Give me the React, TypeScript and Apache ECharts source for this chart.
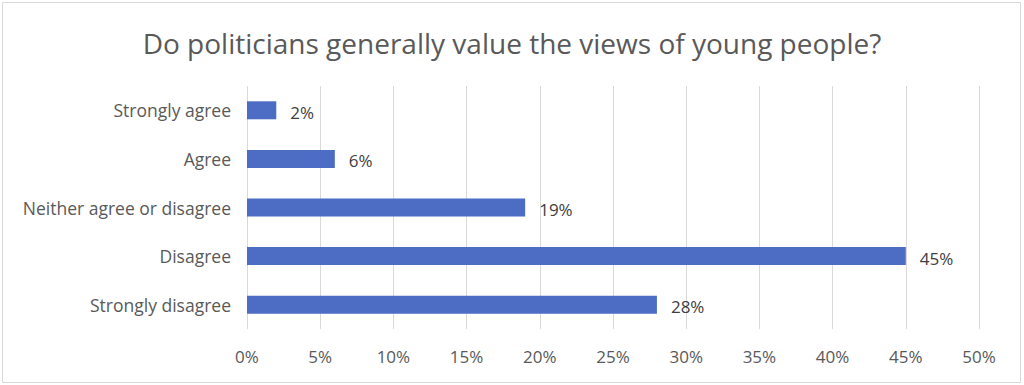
import React, { useEffect, useRef } from "react";
import * as echarts from "echarts";

const categories = ["Strongly agree", "Agree", "Neither agree or disagree", "Disagree", "Strongly disagree"];
const values = [2, 6, 19, 45, 28];
const title = "Do politicians generally value the views of young people?";

export default function App() {
  const ref = useRef<HTMLDivElement>(null);
  useEffect(() => {
    document.body.style.margin = "0";
    const chart = echarts.init(ref.current!, null, { renderer: "svg" });
    const font = "Open Sans";
    chart.setOption({
      animation: false,
      backgroundColor: "#ffffff",
      title: {
        text: title,
        left: "center",
        top: 24,
        textStyle: { fontFamily: font, fontSize: 28, fontWeight: "normal", color: "#595959" },
      },
      graphic: [
        {
          type: "rect",
          shape: { x: 2.5, y: 2.5, width: 1018, height: 380 },
          style: { fill: "none", stroke: "#d9d9d9", lineWidth: 1 },
          silent: true,
        },
      ],
      grid: { left: 247, right: 45, top: 86, bottom: 56 },
      xAxis: {
        type: "value",
        min: 0,
        max: 50,
        interval: 5,
        axisLine: { show: false },
        axisTick: { show: false },
        splitLine: { lineStyle: { color: "#d9d9d9", width: 1 } },
        axisLabel: {
          formatter: "{value}%",
          fontFamily: font,
          fontSize: 17,
          color: "#595959",
          margin: 19,
        },
      },
      yAxis: {
        type: "category",
        inverse: true,
        data: categories,
        axisLine: { show: false },
        axisTick: { show: false },
        axisLabel: { fontFamily: font, fontSize: 17.5, color: "#595959", margin: 16 },
      },
      series: [
        {
          type: "bar",
          data: values,
          barWidth: 18,
          itemStyle: { color: "#4D6CC4" },
          label: {
            show: true,
            position: "right",
            distance: 14,
            formatter: "{c}%",
            fontFamily: font,
            fontSize: 17,
            color: "#404040",
            offset: [0, 2],
          },
        },
      ],
    });
    return () => chart.dispose();
  }, []);
  return <div ref={ref} style={{ width: 1024, height: 385 }} />;
}
